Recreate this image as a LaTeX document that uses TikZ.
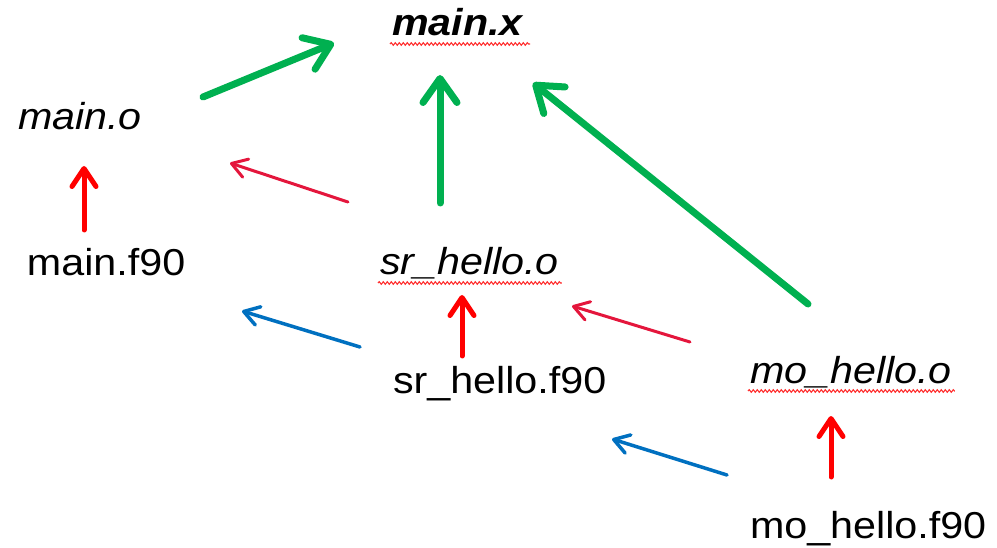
\documentclass[tikz,border=0pt]{standalone}
\usepackage{fontspec}
\setmainfont{Liberation Sans}[FakeStretch=1.1]
\usetikzlibrary{arrows.meta,decorations.pathmorphing}
\definecolor{lgreen}{RGB}{0,176,80}
\definecolor{lred}{RGB}{255,0,0}
\definecolor{lcrimson}{RGB}{228,22,60}
\definecolor{lblue}{RGB}{0,112,192}
\tikzset{
  lbl/.style={anchor=base west, inner sep=0pt, outer sep=0pt, font=\fontsize{37.5pt}{40pt}\selectfont},
  linkarrow/.style={draw=lgreen, line width=7pt, line cap=round,
    -{Straight Barb[length=24pt, width=34pt, round]}},
  compilearrow/.style={draw=lred, line width=5pt, line cap=round,
    -{Straight Barb[length=18pt, width=24pt, round]}},
  modarrow/.style={draw=lcrimson, line width=3pt, line cap=round,
    -{Straight Barb[length=15pt, width=19pt, round]}},
  deparrow/.style={draw=lblue, line width=3.5pt, line cap=round,
    -{Straight Barb[length=15pt, width=19pt, round]}},
  wavy/.style={draw=red!80!white, line width=1.1pt,
    decorate, decoration={snake, amplitude=1.3pt, segment length=4pt}}
}
\begin{document}
\begin{tikzpicture}[x=1pt, y=-1pt]
\useasboundingbox (0,0) rectangle (997,548);
% nodes
\node[lbl] (mx)  at (392,36)  {\textbf{\textit{main.x}}};
\node[lbl] (mo)  at (18,130)  {\textit{main.o}};
\node[lbl] (mf)  at (27,276)  {main.f90};
\node[lbl] (so)  at (380,275) {\textit{sr\_hello.o}};
\node[lbl] (sf)  at (393,393) {sr\_hello.f90};
\node[lbl] (oo)  at (750,383) {\textit{mo\_hello.o}};
\node[lbl] (of)  at (750,538) {mo\_hello.f90};
% spell-check underlines
\draw[wavy] ([shift={(-2,8)}]mx.base west) -- ([shift={(6,8)}]mx.base east);
\draw[wavy] ([shift={(-2,8)}]so.base west) -- ([shift={(3,8)}]so.base east);
\draw[wavy] ([shift={(-2,8)}]oo.base west) -- ([shift={(3,8)}]oo.base east);
% link arrows
\draw[linkarrow] ([shift={(185,-33)}]mo.base west) -- ([shift={(-58,7)}]mx.base west);
\draw[linkarrow] ([shift={(60,-72)}]so.base west) -- ([shift={(48,39)}]mx.base west);
\draw[linkarrow] ([shift={(58,-79)}]oo.base west) -- ([shift={(141,47)}]mx.base west);
% compile arrows
\draw[compilearrow] ([shift={(57,-46)}]mf.base west) -- ([shift={(66,36)}]mo.base west);
\draw[compilearrow] ([shift={(69,-37)}]sf.base west) -- ([shift={(82,20)}]so.base west);
\draw[compilearrow] ([shift={(81,-61)}]of.base west) -- ([shift={(81,33)}]oo.base west);
% module arrows
\draw[modarrow] ([shift={(-32,-73)}]so.base west) -- ([shift={(212,33)}]mo.base west);
\draw[modarrow] ([shift={(-60,-41)}]oo.base west) -- ([shift={(192,31)}]so.base west);
% dependency arrows
\draw[deparrow] ([shift={(-33,-46)}]sf.base west) -- ([shift={(215,35)}]mf.base west);
\draw[deparrow] ([shift={(-23,-63)}]of.base west) -- ([shift={(219,46)}]sf.base west);
\end{tikzpicture}
\end{document}
